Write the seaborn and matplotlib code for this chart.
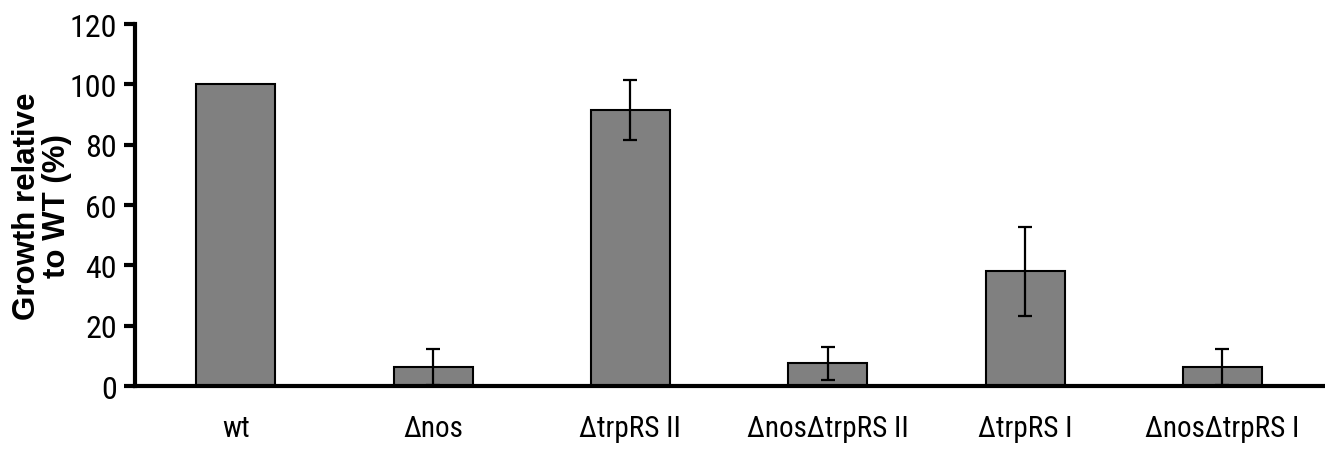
import numpy as np
import pandas as pd
import matplotlib
matplotlib.use("Agg")
import matplotlib.pyplot as plt
import seaborn as sns

strains = ["wt", "Δnos", "ΔtrpRS II", "ΔnosΔtrpRS II", "ΔtrpRS I", "ΔnosΔtrpRS I"]
growth = [100, 6.3, 91.5, 7.6, 38, 6.3]
err = [0, 6, 10, 5.5, 14.8, 6]

sns.set_style("white")
plt.rcParams["font.family"] = ["Roboto Condensed", "Liberation Sans", "DejaVu Sans"]
plt.rcParams["text.color"] = "black"
plt.rcParams["axes.labelcolor"] = "black"
plt.rcParams["xtick.color"] = "black"
plt.rcParams["ytick.color"] = "black"

df = pd.DataFrame({"strain": strains, "growth": growth, "err": err})

fig = plt.figure(figsize=(13.25, 4.56), dpi=100)
ax = fig.add_axes([0.102, 0.151, 0.898, 0.794])

sns.barplot(data=df, x="strain", y="growth", order=strains, color="#808080",
            saturation=1, edgecolor="black", linewidth=1.5, width=0.4,
            errorbar=None, ax=ax)

# error bars only where an error was given
xs = np.arange(len(strains))
has_err = df["err"].to_numpy() > 0
ax.errorbar(xs[has_err], df["growth"][has_err], yerr=df["err"][has_err], fmt="none",
            ecolor="black", elinewidth=1.6, capsize=5, capthick=1.6)

ax.set_ylim(0, 120)
ax.set_xlim(-0.51, 5.52)
ax.set_yticks(range(0, 121, 20))
for side in ["top", "right"]:
    ax.spines[side].set_visible(False)
for side in ["left", "bottom"]:
    ax.spines[side].set_linewidth(3)
    ax.spines[side].set_color("black")
ax.tick_params(axis="y", direction="out", length=8, width=3, labelsize=23, pad=5, left=True)
ax.tick_params(axis="x", length=0, labelsize=21, pad=20)
ax.set_xlabel("")
ax.set_ylabel("Growth relative\nto WT (%)", fontsize=22.5, fontweight="bold",
              fontfamily="Liberation Sans", linespacing=1.0)
ax.yaxis.set_label_coords(-0.053, 0.5)

fig.savefig("out.png", dpi=100)
